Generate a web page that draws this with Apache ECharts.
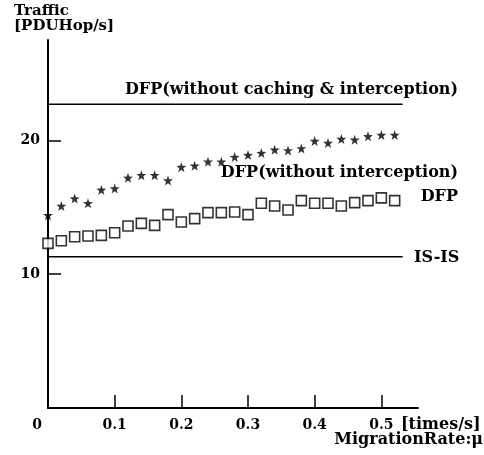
<!DOCTYPE html>
<html>
<head>
<meta charset="utf-8">
<script src="https://cdn.jsdelivr.net/npm/echarts@6/dist/echarts.min.js"></script>
<style>
  html, body { margin: 0; background: #fff; }
  #chart { width: 484px; height: 455px; }
</style>
</head>
<body>
<div id="chart"></div>
<script>
// migration rate samples (times/s)
const rates = [0, 0.02, 0.04, 0.06, 0.08, 0.1, 0.12, 0.14, 0.16, 0.18, 0.2, 0.22, 0.24, 0.26,
  0.28, 0.3, 0.32, 0.34, 0.36, 0.38, 0.4, 0.42, 0.44, 0.46, 0.48, 0.5, 0.52]
// DFP (without interception) - stars
const dfpNoIntercept = [14.4, 15.1, 15.65, 15.3, 16.3, 16.4, 17.2, 17.4, 17.4, 17.0, 18.0, 18.1, 18.4, 18.4,
  18.75, 18.9, 19.05, 19.3, 19.25, 19.4, 19.95, 19.8, 20.1, 20.05, 20.3, 20.4, 20.4]
// DFP - squares
const dfp = [12.3, 12.5, 12.8, 12.85, 12.9, 13.1, 13.6, 13.8, 13.65, 14.45, 13.9, 14.15, 14.6, 14.6,
  14.65, 14.45, 15.3, 15.1, 14.8, 15.5, 15.3, 15.3, 15.1, 15.35, 15.5, 15.7, 15.5]
// constant levels
const dfpNoCacheLevel = 22.7
const isisLevel = 11.3
const levelSpan = [0, 0.532]
const xTickValues = [0.1, 0.2, 0.3, 0.4, 0.5]
const xLabelValues = [0, 0.1, 0.2, 0.3, 0.4, 0.5]
const yTickValues = [10, 20]

const font = 'DejaVu Serif'
const star = 'path://M0,-10L2.35,-3.24L9.51,-3.09L3.8,1.24L5.88,8.09L0,4L-5.88,8.09L-3.8,1.24L-9.51,-3.09L-2.35,-3.24Z'

const text = (x, y, str, align = 'left', size = 16) => ({
  type: 'text',
  x,
  y,
  style: {
    text: str,
    fill: '#000',
    font: 'bold ' + size + 'px "' + font + '"',
    textAlign: align,
    textVerticalAlign: 'middle',
  },
})

const chart = echarts.init(document.getElementById('chart'), null, { renderer: 'canvas' })
chart.setOption({
  animation: false,
  backgroundColor: '#fff',
  textStyle: { fontFamily: font, color: '#000' },
  grid: { left: 48, top: 40, right: 66, bottom: 47, outerBoundsMode: 'none' },
  xAxis: {
    type: 'value',
    min: 0,
    max: 0.555,
    splitLine: { show: false },
    axisLine: { lineStyle: { color: '#000', width: 2 } },
    axisTick: {
      inside: true,
      length: 13,
      customValues: xTickValues,
      lineStyle: { color: '#000', width: 1.5 },
    },
    axisLabel: {
      customValues: xLabelValues,
      margin: 10,
      fontSize: 14,
      fontWeight: 'bold',
      fontFamily: font,
      color: '#000',
      formatter: (v) => (v === 0 ? '{z|0}' : String(v)),
      rich: { z: { fontSize: 14, fontWeight: 'bold', fontFamily: font, color: '#000', padding: [0, 22, 0, 0] } },
    },
  },
  yAxis: {
    type: 'value',
    min: 0,
    max: 27.5,
    splitLine: { show: false },
    axisLine: { lineStyle: { color: '#000', width: 2 } },
    axisTick: {
      inside: true,
      length: 13,
      customValues: yTickValues,
      lineStyle: { color: '#000', width: 1.5 },
    },
    axisLabel: {
      customValues: yTickValues,
      margin: 8,
      fontSize: 14,
      fontWeight: 'bold',
      fontFamily: font,
      color: '#000',
    },
  },
  series: [
    {
      type: 'line',
      data: levelSpan.map((x) => [x, dfpNoCacheLevel]),
      symbol: 'none',
      lineStyle: { color: '#000', width: 1.6 },
    },
    {
      type: 'line',
      data: levelSpan.map((x) => [x, isisLevel]),
      symbol: 'none',
      lineStyle: { color: '#000', width: 1.6 },
    },
    {
      type: 'scatter',
      data: rates.map((x, i) => [x, dfpNoIntercept[i]]),
      symbol: star,
      symbolSize: 10,
      itemStyle: { color: '#000' },
    },
    {
      type: 'scatter',
      data: rates.map((x, i) => [x, dfp[i]]),
      symbol: 'rect',
      symbolSize: 10,
      itemStyle: { color: '#fff', borderColor: '#000', borderWidth: 1.6 },
    },
  ],
  graphic: [
    text(14, 11, 'Traffic', 'left', 15),
    text(14, 26, '[PDUHop/s]', 'left', 15),
    text(401, 425, '[times/s]'),
    text(483, 440, 'MigrationRate:μ', 'right'),
    text(458, 90, 'DFP(without caching & interception)', 'right'),
    text(458, 173, 'DFP(without interception)', 'right'),
    text(458, 197, 'DFP', 'right'),
    text(414, 258, 'IS-IS'),
  ],
})
</script>
</body>
</html>
